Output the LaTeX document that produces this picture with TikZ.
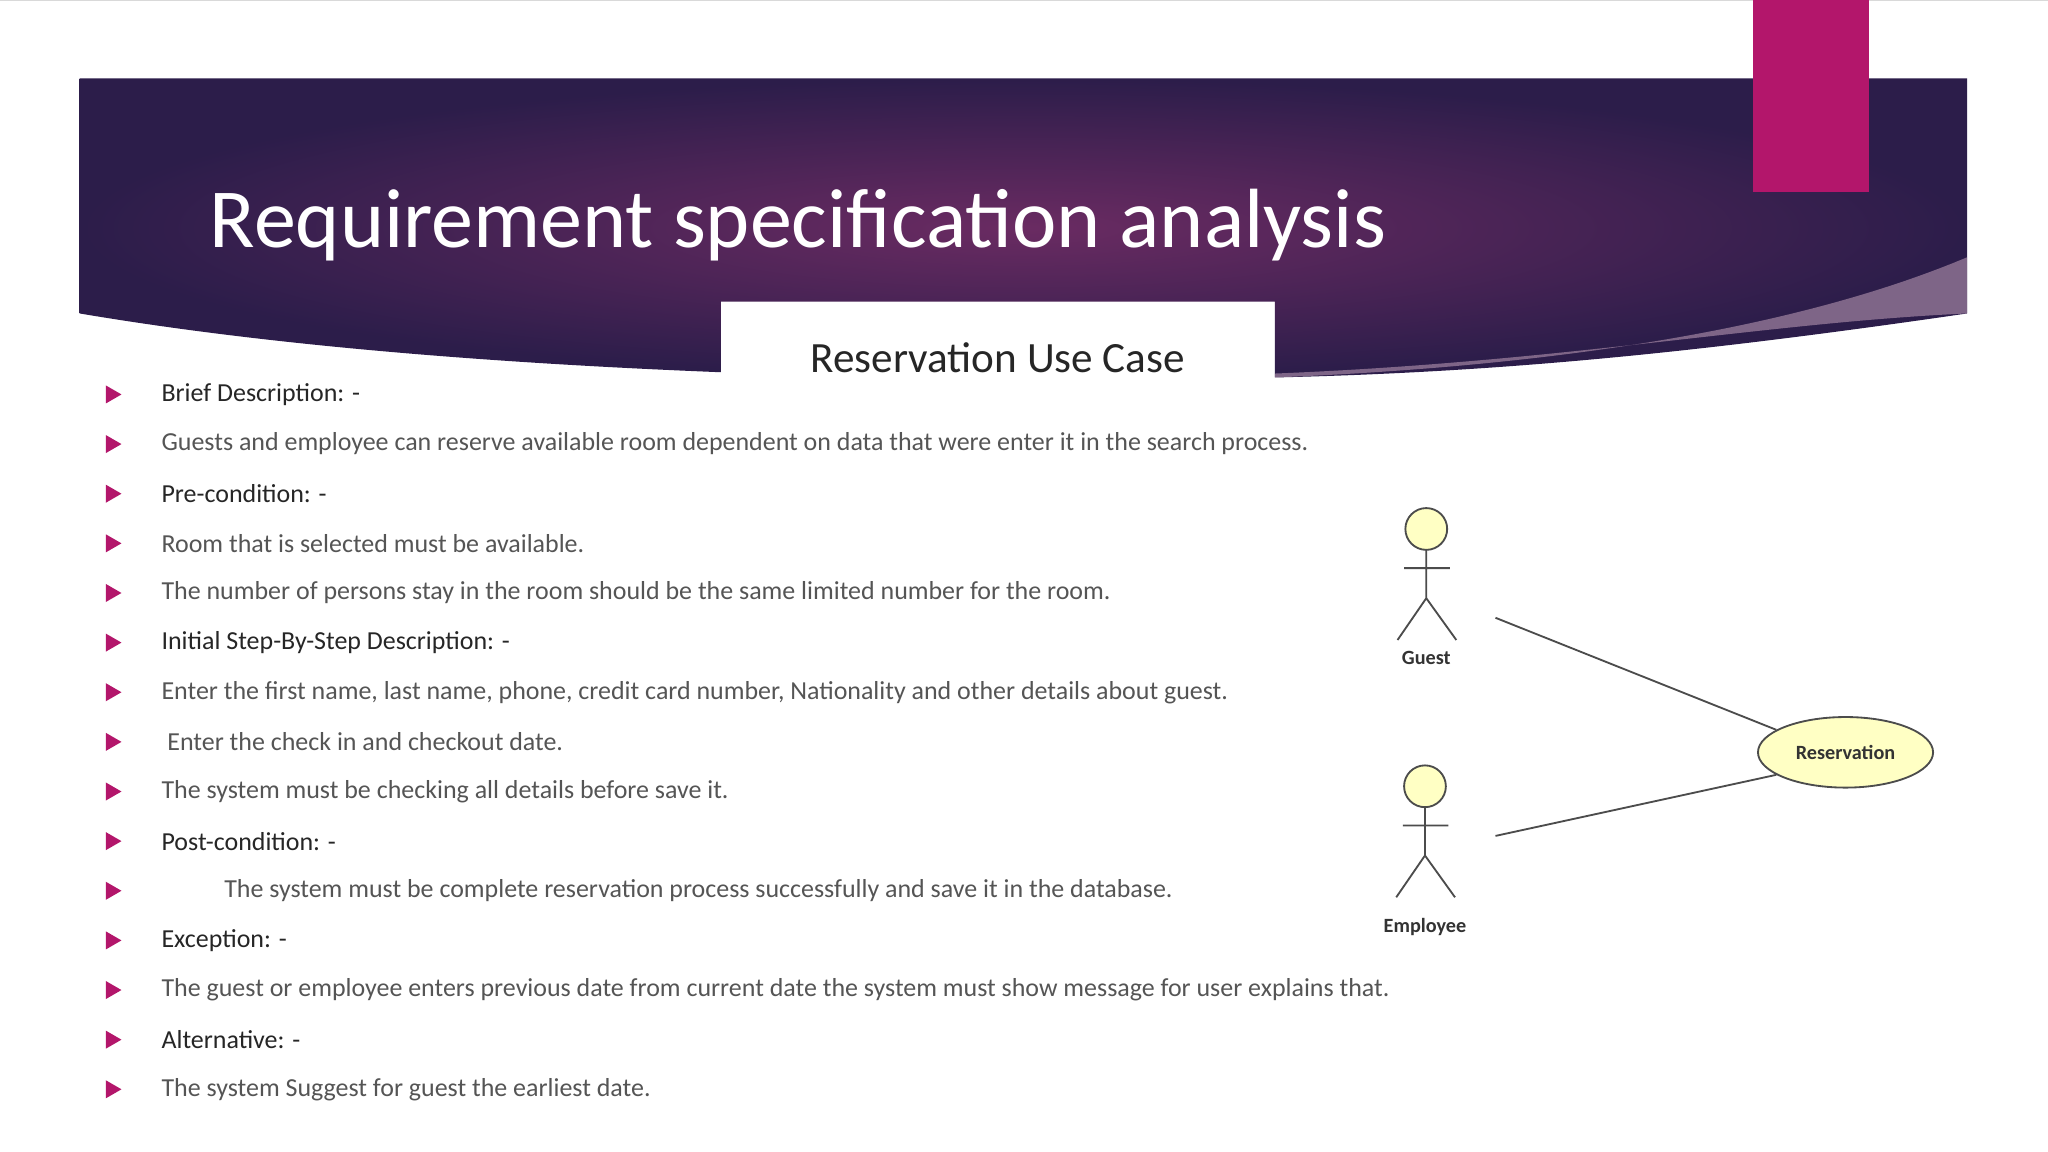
\documentclass[tikz,border=0pt]{standalone}
\usepackage{fontspec}
\setmainfont{Carlito}
\usetikzlibrary{shapes.geometric}
\definecolor{mag}{HTML}{B3166B}
\definecolor{dpur}{HTML}{2C1D4A}
\definecolor{mpur}{HTML}{6A2B62}
\definecolor{txt}{HTML}{555555}
\definecolor{uyel}{HTML}{FFFFC4}
\begin{document}
\begin{tikzpicture}[x=0.01cm,y=-0.01cm,
  bul/.style={fill=mag,regular polygon,regular polygon sides=3,shape border rotate=-90,inner sep=0pt,minimum size=0.16cm},
  item/.style={anchor=west,text=txt,font=\fontsize{5.65}{7}\selectfont,inner sep=0},
  head/.style={anchor=west,text=black!85,font=\fontsize{5.65}{7}\selectfont,inner sep=0},
  lab/.style={font=\bfseries\fontsize{4.4}{5}\selectfont,text=black!80}]
\useasboundingbox (0,0) rectangle (1568,882);
\fill[white] (0,0) rectangle (1568,882);
\draw[black!15] (0,0) -- (1568,0);
% header
\shade[inner color=mpur,outer color=dpur] (61,60) -- (1506,60) -- (1506,240) .. controls (1300,270) and (1150,285) .. (976,289) -- (976,231) -- (552,231) -- (552,285) .. controls (300,275) and (150,255) .. (61,240) -- cycle;
\fill[white!50!mpur,opacity=0.6] (1506,197) .. controls (1380,250) and (1200,280) .. (976,289) -- (976,286) .. controls (1200,277) and (1350,247) .. (1506,240) -- cycle;
\fill[mag] (1342,0) rectangle (1431,147);
\node[text=white,anchor=west,font=\fontsize{18.3}{20}\selectfont,inner sep=0] (title) at (160,172) {Requirement specification analysis};
\node[font=\fontsize{9.4}{11}\selectfont,text=black!85] (sub) at (764,274) {Reservation Use Case};
% bullets
\foreach \y/\t/\s in {302/{Brief Description: -}/head,
 340/{Guests and employee can reserve available room dependent on data that were enter it in the search process.}/item,
 378/{Pre-condition: -}/head,
 416/{Room that is selected must be available.}/item,
 454/{The number of persons stay in the room should be the same limited number for the room.}/item,
 492/{Initial Step-By-Step Description: -}/head,
 530/{Enter the first name, last name, phone, credit card number, Nationality and other details about guest.}/item,
 568/{\ Enter the check in and checkout date.}/item,
 606/{The system must be checking all details before save it.}/item,
 644/{Post-condition: -}/head,
 682/{\hspace{0.48cm}The system must be complete reservation process successfully and save it in the database.}/item,
 720/{Exception: -}/head,
 758/{The guest or employee enters previous date from current date the system must show message for user explains that.}/item,
 796/{Alternative: -}/head,
 834/{The system Suggest for guest the earliest date.}/item}
 {\node[bul] at (85,\y) {}; \node[\s] at (123,\y) {\t};}
% use case diagram
\foreach \n/\x/\y/\l/\d in {g/1092/405/Guest/99,e/1091/602/Employee/108}{
 \draw[draw=black!70,fill=uyel] (\x,\y) circle (16);
 \draw[black!70] (\x,\y+16) -- (\x,\y+53) (\x-17,\y+30) -- (\x+18,\y+30)
   (\x-22,\y+85) -- (\x,\y+53) -- (\x+23,\y+85);
 \node[lab] (\n lab) at (\x,\y+\d) {\l};
}
\coordinate (ga) at (1145,473);
\coordinate (ea) at (1145,640);
\node[ellipse,draw=black!70,fill=uyel,inner sep=0pt,minimum width=1.34cm,minimum height=0.54cm,lab] (res) at (1413,576) {Reservation};
\draw[black!70] (ga) -- (res.162);
\draw[black!70] (ea) -- (res.198);
\end{tikzpicture}
\end{document}
